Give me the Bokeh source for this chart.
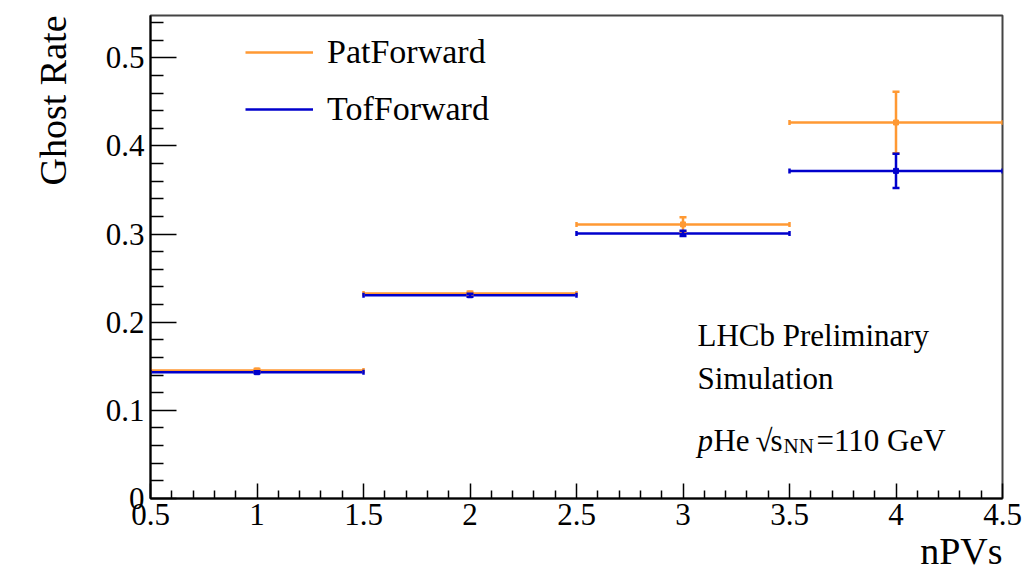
import math
from bokeh.plotting import figure
from bokeh.models import (ColumnDataSource, Whisker, TeeHead, Legend, LegendItem,
                          Label, FixedTicker, Title)
from bokeh.embed import file_html
from bokeh.resources import INLINE

# ---- data ----
bin_lo = [0.5, 1.5, 2.5, 3.5]
bin_hi = [1.5, 2.5, 3.5, 4.5]
centers = [1.0, 2.0, 3.0, 4.0]
pat_rate = [0.1453, 0.2327, 0.3110, 0.4266]
pat_err = [0.0015, 0.0020, 0.0080, 0.0350]
tof_rate = [0.1433, 0.2306, 0.3008, 0.3717]
tof_err = [0.0012, 0.0018, 0.0030, 0.0195]

series_names = ["PatForward", "TofForward"]
series_colors = ["#ff9933", "#0000cc"]

x_ticks = [0.5, 1.0, 1.5, 2.0, 2.5, 3.0, 3.5, 4.0, 4.5]
x_tick_labels = ["0.5", "1", "1.5", "2", "2.5", "3", "3.5", "4", "4.5"]
x_minor = [0.6, 0.7, 0.8, 0.9, 1.1, 1.2, 1.3, 1.4, 1.6, 1.7, 1.8, 1.9,
           2.1, 2.2, 2.3, 2.4, 2.6, 2.7, 2.8, 2.9, 3.1, 3.2, 3.3, 3.4,
           3.6, 3.7, 3.8, 3.9, 4.1, 4.2, 4.3, 4.4]
y_ticks = [0.0, 0.1, 0.2, 0.3, 0.4, 0.5]
y_tick_labels = ["0", "0.1", "0.2", "0.3", "0.4", "0.5"]
y_minor = [0.02, 0.04, 0.06, 0.08, 0.12, 0.14, 0.16, 0.18, 0.22, 0.24, 0.26, 0.28,
           0.32, 0.34, 0.36, 0.38, 0.42, 0.44, 0.46, 0.48, 0.52, 0.54]

x_title = "nPVs"
y_title = "Ghost Rate"

FONT = "Liberation Serif"

p = figure(width=1025, height=578, x_range=(0.5, 4.5), y_range=(0.0, 0.548),
           output_backend="svg", toolbar_location=None,
           min_border_left=150, min_border_right=23, min_border_top=15,
           min_border_bottom=80)
p.grid.visible = False
p.outline_line_color = "#444444"
p.outline_line_width = 2
p.background_fill_color = "white"
p.border_fill_color = "white"

# axes
p.xaxis.ticker = FixedTicker(ticks=x_ticks, minor_ticks=x_minor)
p.yaxis.ticker = FixedTicker(ticks=y_ticks, minor_ticks=y_minor)
p.xaxis.major_label_overrides = dict(zip(x_ticks, x_tick_labels))
p.yaxis.major_label_overrides = dict(zip(y_ticks, y_tick_labels))
for ax in (p.xaxis, p.yaxis):
    ax.axis_line_color = "black"
    ax.axis_line_width = 2
    ax.major_tick_line_color = "black"
    ax.minor_tick_line_color = "black"
    ax.major_tick_line_width = 1.5
    ax.minor_tick_line_width = 1.5
    ax.major_tick_out = 0
    ax.minor_tick_out = 0
    ax.major_label_text_font = FONT
    ax.major_label_text_font_size = "31px"
    ax.major_label_text_color = "black"
p.xaxis.major_tick_in = 15
p.xaxis.minor_tick_in = 8
p.yaxis.major_tick_in = 26
p.yaxis.minor_tick_in = 13
p.xaxis.major_label_standoff = 5
p.yaxis.major_label_standoff = 6

# axis titles as side titles, aligned to the axis end (ROOT style)
p.add_layout(Title(text=y_title, align="right", standoff=58,
                   text_font=FONT, text_font_style="normal",
                   text_font_size="38px", text_color="black"), "left")
p.add_layout(Title(text=x_title, align="right", standoff=0,
                   text_font=FONT, text_font_style="normal",
                   text_font_size="38px", text_color="black"), "below")

# series
hbar_renderers = []
for name, rate, err, color in zip(series_names, [pat_rate, tof_rate],
                                  [pat_err, tof_err], series_colors):
    src = ColumnDataSource(dict(
        lo=bin_lo, hi=bin_hi, x=centers, y=rate,
        up=[r + e for r, e in zip(rate, err)],
        low=[r - e for r, e in zip(rate, err)],
    ))
    hr = p.segment(x0="lo", y0="y", x1="hi", y1="y", source=src,
                   line_color=color, line_width=2.5)
    hbar_renderers.append(hr)
    p.add_layout(Whisker(source=src, base="y", lower="lo", upper="hi",
                         dimension="width", line_alpha=0,
                         upper_head=TeeHead(size=5, line_color=color, line_width=2.5),
                         lower_head=TeeHead(size=5, line_color=color, line_width=2.5),
                         level="glyph"))
    p.add_layout(Whisker(source=src, base="x", lower="low", upper="up",
                         dimension="height", line_color=color, line_width=2.5,
                         upper_head=TeeHead(size=7, line_color=color, line_width=2.5),
                         lower_head=TeeHead(size=7, line_color=color, line_width=2.5),
                         level="glyph"))
    p.scatter(x="x", y="y", source=src, marker="square", size=5,
              fill_color=color, line_color=color)

legend = Legend(items=[LegendItem(label=n, renderers=[r])
                       for n, r in zip(series_names, hbar_renderers)],
                location=(95, 369), orientation="vertical",
                glyph_width=68, glyph_height=40, label_height=40,
                label_standoff=14, spacing=17, padding=0, margin=0,
                border_line_color=None, background_fill_alpha=0,
                label_text_font=FONT, label_text_font_size="34px",
                label_text_color="black")
p.add_layout(legend)

# annotation texts
tx = 3.068
common = dict(text_font=FONT, text_color="black", text_baseline="alphabetic",
              text_align="left", text_font_size="31px")
y1, y2, y3 = 0.1855, 0.1365, 0.066
p.add_layout(Label(x=tx, y=y1, text="LHCb Preliminary", **common))
p.add_layout(Label(x=tx, y=y2, text="Simulation", **common))
p.add_layout(Label(x=tx, y=y3, text="p", text_font_style="italic", **common))
p.add_layout(Label(x=tx, y=y3, x_offset=16, text="He", **common))
p.add_layout(Label(x=tx, y=y3, x_offset=58, text="\u221a", **common))
p.add_layout(Label(x=tx, y=y3, x_offset=73, text="s", **common))
p.add_layout(Label(x=tx, y=y3, x_offset=86, y_offset=-6, text="NN",
                   **{**common, "text_font_size": "21px"}))
p.add_layout(Label(x=tx, y=y3, x_offset=119, text="=110 GeV", **common))

open("out.html", "w").write(file_html(p, INLINE))
